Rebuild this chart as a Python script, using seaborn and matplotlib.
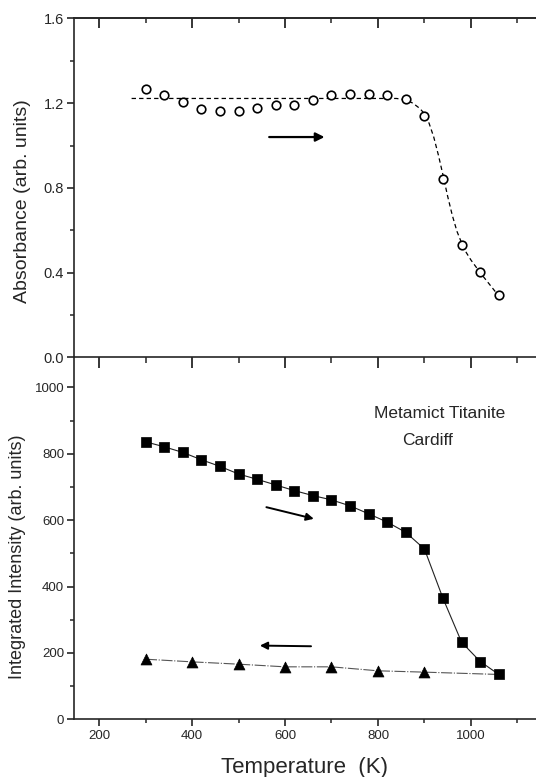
import matplotlib
matplotlib.use("Agg")
import matplotlib.pyplot as plt
import numpy as np
import pandas as pd
import seaborn as sns
from matplotlib.ticker import MultipleLocator

# ---------------- data ----------------
temp_abs = [300, 340, 380, 420, 460, 500, 540, 580, 620, 660,
            700, 740, 780, 820, 860, 900, 940, 980, 1020, 1060]
absorbance = [1.269, 1.237, 1.206, 1.170, 1.162, 1.162, 1.178, 1.193, 1.189, 1.214,
              1.236, 1.242, 1.242, 1.236, 1.220, 1.138, 0.843, 0.531, 0.402, 0.295]

fit_temp = [270, 500, 700, 840, 860, 875, 890, 900, 910, 920, 930, 940,
            950, 960, 970, 980, 990, 1000, 1020, 1040, 1060]
fit_abs = [1.222, 1.222, 1.222, 1.222, 1.215, 1.200, 1.175, 1.150, 1.105, 1.040, 0.955, 0.860,
           0.760, 0.670, 0.595, 0.540, 0.495, 0.460, 0.400, 0.345, 0.290]

temp_heat = [300, 340, 380, 420, 460, 500, 540, 580, 620, 660,
             700, 740, 780, 820, 860, 900, 940, 980, 1020, 1060]
intensity_heat = [836, 821, 804, 782, 762, 739, 723, 706, 689, 674,
                  661, 643, 619, 594, 563, 513, 364, 232, 174, 135]

temp_cool = [300, 400, 500, 600, 700, 800, 900]
intensity_cool = [181, 173, 166, 158, 158, 146, 142]

yticks_abs = [0.0, 0.4, 0.8, 1.2, 1.6]
yticks_int = [0, 200, 400, 600, 800, 1000]
xticks = [200, 400, 600, 800, 1000]

# cooling curve starts from the last heating point
cool_line_temp = [temp_heat[-1]] + temp_cool[::-1]
cool_line_int = [intensity_heat[-1]] + intensity_cool[::-1]

df_abs = pd.DataFrame({"T": temp_abs, "A": absorbance})
df_fit = pd.DataFrame({"T": fit_temp, "A": fit_abs})
df_heat = pd.DataFrame({"T": temp_heat, "I": intensity_heat})
df_cool = pd.DataFrame({"T": temp_cool, "I": intensity_cool})
df_cool_line = pd.DataFrame({"T": cool_line_temp, "I": cool_line_int})

# ---------------- style ----------------
sns.set_style("ticks")
plt.rcParams["font.family"] = ["Liberation Sans", "DejaVu Sans"]
plt.rcParams["axes.linewidth"] = 1.2

fig = plt.figure(figsize=(5.36, 7.77), dpi=100)
ax1 = fig.add_axes([0.138, 0.5399, 0.862, 0.4365])
ax2 = fig.add_axes([0.138, 0.0743, 0.862, 0.4656])
ax2.patch.set_visible(False)
ax1.set_zorder(3)
ax1.patch.set_visible(False)

XLIM = (146, 1140)

# ---- top panel ----
sns.lineplot(data=df_fit, x="T", y="A", ax=ax1, color="black", lw=0.9,
             linestyle=(0, (3.5, 2.5)), sort=False)
sns.scatterplot(data=df_abs, x="T", y="A", ax=ax1, marker="o", s=38,
                facecolor="white", edgecolor="black", linewidth=1.2, zorder=3)
ax1.annotate("", xy=(685, 1.04), xytext=(566, 1.04),
             arrowprops=dict(arrowstyle="-|>", color="black", lw=1.6,
                             mutation_scale=13, shrinkA=0, shrinkB=0))
ax1.set_xlim(*XLIM)
ax1.set_ylim(0, 1.6)
ax1.set_yticks(yticks_abs)
ax1.set_yticklabels([f"{v:.1f}" for v in yticks_abs])
ax1.yaxis.set_minor_locator(MultipleLocator(0.2))
ax1.set_xticks(xticks)
ax1.xaxis.set_minor_locator(MultipleLocator(100))
ax1.tick_params(axis="x", which="both", bottom=True, top=False, labelbottom=False,
                direction="out")
ax1.tick_params(axis="x", which="major", length=8, width=1.3)
ax1.tick_params(axis="x", which="minor", length=4, width=1.1)
ax1.tick_params(axis="y", which="major", direction="out", length=5, width=1.2,
                labelsize=10.5, pad=2)
ax1.tick_params(axis="y", which="minor", direction="out", length=3, width=1.1)
ax1.spines["right"].set_visible(False)
ax1.set_xlabel("")
ax1.set_ylabel("Absorbance (arb. units)", fontsize=14)
ax1.yaxis.set_label_coords(-0.093, 0.46)

# top spine ticks pointing inward
sec = ax1.secondary_xaxis("top")
sec.set_xticks(xticks)
sec.xaxis.set_minor_locator(MultipleLocator(100))
sec.tick_params(axis="x", which="both", direction="in", labeltop=False)
sec.tick_params(axis="x", which="major", length=7, width=1.3)
sec.tick_params(axis="x", which="minor", length=3.5, width=1.1)

# ---- bottom panel ----
sns.lineplot(data=df_heat, x="T", y="I", ax=ax2, color="#222222", lw=0.8, sort=False)
sns.lineplot(data=df_cool_line, x="T", y="I", ax=ax2, color="#555555", lw=0.8,
             linestyle=(0, (10, 1.5, 1, 1.5)), sort=False)
sns.scatterplot(data=df_heat, x="T", y="I", ax=ax2, marker="s", s=42,
                color="black", edgecolor="black", linewidth=0.5, zorder=3)
sns.scatterplot(data=df_cool, x="T", y="I", ax=ax2, marker="^", s=62,
                color="black", edgecolor="black", linewidth=0.5, zorder=3)
ax2.annotate("", xy=(662, 604), xytext=(560, 639),
             arrowprops=dict(arrowstyle="-|>", color="black", lw=1.4,
                             mutation_scale=11, shrinkA=0, shrinkB=0))
ax2.annotate("", xy=(546, 222), xytext=(656, 220),
             arrowprops=dict(arrowstyle="-|>", color="black", lw=1.4,
                             mutation_scale=11, shrinkA=0, shrinkB=0))
ax2.text(933, 920, "Metamict Titanite", ha="center", va="center", fontsize=12.5)
ax2.text(907, 839, "Cardiff", ha="center", va="center", fontsize=12.5)

ax2.set_xlim(*XLIM)
ax2.set_ylim(0, 1090)
ax2.set_yticks(yticks_int)
ax2.yaxis.set_minor_locator(MultipleLocator(100))
ax2.set_xticks(xticks)
ax2.xaxis.set_minor_locator(MultipleLocator(100))
ax2.tick_params(axis="x", which="major", direction="out", length=5, width=1.2,
                labelsize=9.5, pad=3)
ax2.tick_params(axis="x", which="minor", direction="out", length=3, width=1.1)
ax2.tick_params(axis="y", which="major", direction="out", length=5, width=1.2,
                labelsize=9.5, pad=2)
ax2.tick_params(axis="y", which="minor", direction="out", length=3, width=1.1)
ax2.spines["right"].set_visible(False)
ax2.spines["top"].set_visible(False)
ax2.set_xlabel("Temperature  (K)", fontsize=16)
ax2.xaxis.set_label_coords(0.5, -0.105)
ax2.set_ylabel("Integrated Intensity (arb. units)", fontsize=13)
ax2.yaxis.set_label_coords(-0.104, 0.45)

fig.savefig("out.png", dpi=100)
